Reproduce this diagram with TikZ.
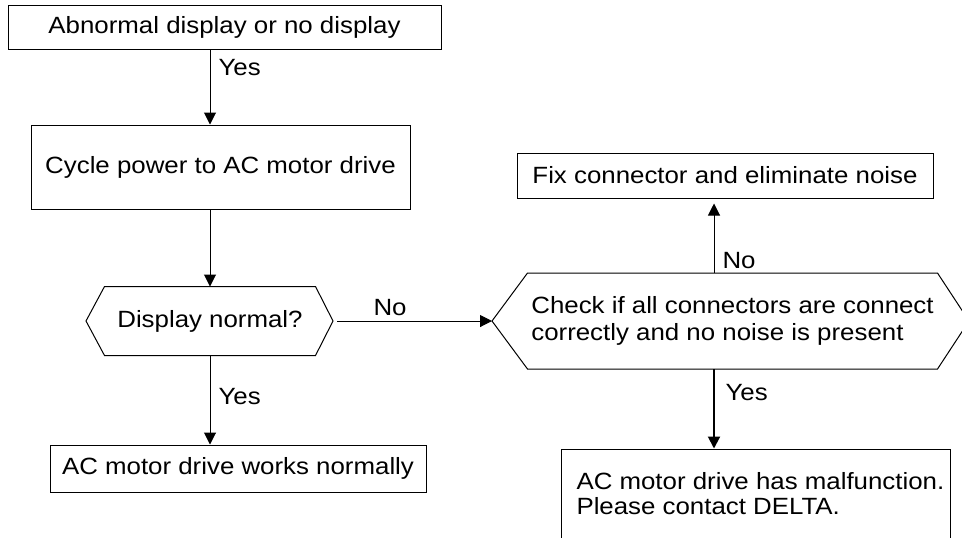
\documentclass[tikz,border=0pt]{standalone}
\usepackage{fontspec}
\setmainfont{Liberation Sans}[FakeStretch=1.1]
\usetikzlibrary{arrows.meta}
\begin{document}
\begin{tikzpicture}[x=0.5pt,y=-0.5pt,
  line width=0.5pt,
  txt/.style={font=\fontsize{11.75}{12.5}\selectfont, inner sep=0pt},
  box/.style={draw, txt},
  arr/.style={-{Triangle[length=6pt,width=6pt]}},
  lbl/.style={txt, anchor=west}]
\useasboundingbox (0,0) rectangle (962,537);
\clip (0,0) rectangle (962,537);

% boxes
\node[box, minimum width=216.5pt, minimum height=22pt] (b1) at (224.5,27) {Abnormal display or no display};
\node[box, minimum width=189.5pt, minimum height=42pt] (b2) at (220.5,167) {Cycle power to AC motor drive};
\node[box, minimum width=208pt, minimum height=22.5pt] (f) at (725,175.5) {Fix connector and eliminate noise};
\node[box, minimum width=188pt, minimum height=23.5pt] (lb) at (238,468.5) {AC motor drive works normally};
\node[draw, minimum width=194.5pt, minimum height=75.5pt, inner sep=0pt] (rb) at (755.5,524.5) {};
\node[txt, anchor=north west, align=left] (rt) at (576,472) {AC motor drive has malfunction.\\Please contact DELTA.};

% decision 1
\node[txt, minimum width=105pt, minimum height=34pt] (d1) at (210,321) {Display normal?};
\coordinate (d1L) at (86,321);
\coordinate (d1R) at (333,321);
\draw (d1L) -- (d1.north west) -- (d1.north east) -- (d1R) -- (d1.south east) -- (d1.south west) -- cycle;

% decision 2
\node[txt, font=\fontsize{11.75}{13.5}\selectfont, align=left, minimum width=204.5pt, minimum height=47.5pt] (d2) at (732.5,321) {Check if all connectors are connect\\correctly and no noise is present};
\coordinate (d2L) at (492,321);
\coordinate (d2R) at (969,321);
\draw (d2L) -- (d2.north west) -- (d2.north east) -- (d2R) -- (d2.south east) -- (d2.south west) -- cycle;

% spines
\coordinate (sx) at (210,0);
\coordinate (rx) at (714,0);
\path (f.south -| rx) ++(0,5) coordinate (ftip);
\path (d1R) ++(4,0) coordinate (d1out);

% connectors
\draw[arr] (b1.south -| sx) -- (b2.north -| sx);
\draw[arr] (b2.south -| sx) -- (d1.north);
\draw[arr] (d1.south) -- (lb.north -| sx);
\draw[arr] (d1out) -- (d2L);
\draw[arr] (d2.north -| rx) -- (ftip);
\draw[arr, line width=1pt] (d2.south -| rx) -- (rb.north -| rx);

% labels
\node[lbl] (y1) at (218,68) {Yes};
\node[lbl] (n1) at (373,308) {No};
\node[lbl] (n2) at (722,261) {No};
\node[lbl] (y2) at (218,397) {Yes};
\node[lbl] (y3) at (725,393) {Yes};
\end{tikzpicture}
\end{document}
